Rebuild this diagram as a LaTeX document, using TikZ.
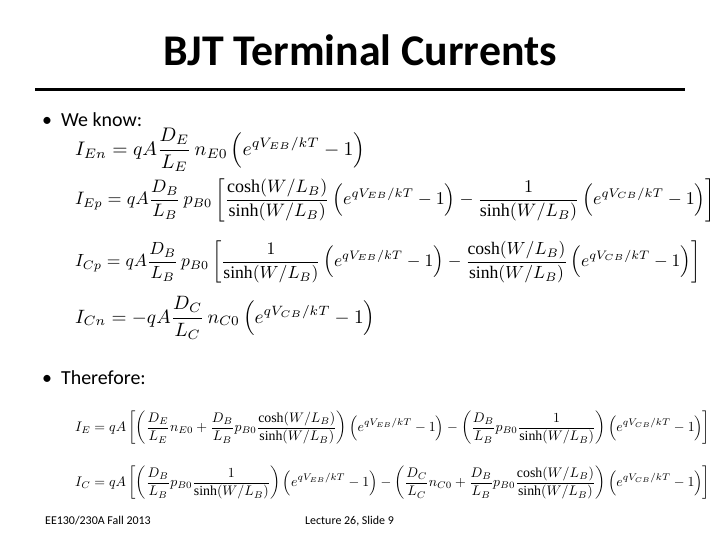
\documentclass[tikz,border=0pt]{standalone}
\usepackage{fontspec}
\usepackage{amsmath}
\usepackage{graphicx}
\setmainfont{Carlito}
\newfontfamily\serifm{Liberation Serif}
\tikzset{eq/.style={anchor=west,inner sep=0pt},txt/.style={anchor=west,inner sep=0pt}}
\newcommand{\ex}[1]{\left(e^{qV_{#1}/kT}-1\right)}
\newcommand{\ch}{\text{\serifm cosh}}
\newcommand{\sh}{\text{\serifm sinh}}
\begin{document}
\begin{tikzpicture}[x=1bp,y=-1bp]
\useasboundingbox (0,0) rectangle (720,540);
\node[inner sep=0pt,font=\fontsize{44}{50}\selectfont\bfseries] (title) at (360,50) {BJT Terminal Currents};
\draw[line width=3bp] (35,90) -- (685,90);
\node[txt,font=\fontsize{20}{24}\selectfont] (b1) at (42,120) {\textbullet\ \ We know:};
\node[txt,font=\fontsize{20}{24}\selectfont] (b2) at (42,378) {\textbullet\ \ Therefore:};
\node[eq] (e1) at (75,150) {\resizebox{290bp}{!}{$\displaystyle I_{En}=qA\frac{D_E}{L_E}\,n_{E0}\ex{EB}$}};
\node[eq] (e2) at (75,200) {\resizebox{640bp}{!}{$\displaystyle I_{Ep}=qA\frac{D_B}{L_B}\,p_{B0}\left[\frac{\ch(W/L_B)}{\sh(W/L_B)}\ex{EB}-\frac{1}{\sh(W/L_B)}\ex{CB}\right]$}};
\node[eq] (e3) at (75,262) {\resizebox{625bp}{!}{$\displaystyle I_{Cp}=qA\frac{D_B}{L_B}\,p_{B0}\left[\frac{1}{\sh(W/L_B)}\ex{EB}-\frac{\ch(W/L_B)}{\sh(W/L_B)}\ex{CB}\right]$}};
\node[eq] (e4) at (75,318) {\resizebox{300bp}{!}{$\displaystyle I_{Cn}=-qA\frac{D_C}{L_C}\,n_{C0}\ex{CB}$}};
\node[eq] (e5) at (75,428) {\resizebox{635bp}{!}{$\displaystyle I_E=qA\left[\left(\frac{D_E}{L_E}n_{E0}+\frac{D_B}{L_B}p_{B0}\frac{\ch(W/L_B)}{\sh(W/L_B)}\right)\ex{EB}-\left(\frac{D_B}{L_B}p_{B0}\frac{1}{\sh(W/L_B)}\right)\ex{CB}\right]$}};
\node[eq] (e6) at (75,483) {\resizebox{635bp}{!}{$\displaystyle I_C=qA\left[\left(\frac{D_B}{L_B}p_{B0}\frac{1}{\sh(W/L_B)}\right)\ex{EB}-\left(\frac{D_C}{L_C}n_{C0}+\frac{D_B}{L_B}p_{B0}\frac{\ch(W/L_B)}{\sh(W/L_B)}\right)\ex{CB}\right]$}};
\node[txt,font=\fontsize{12}{14}\selectfont] (f1) at (45,521) {EE130/230A Fall 2013};
\node[txt,font=\fontsize{12}{14}\selectfont] (f2) at (305,521) {Lecture 26, Slide 9};
\end{tikzpicture}
\end{document}
